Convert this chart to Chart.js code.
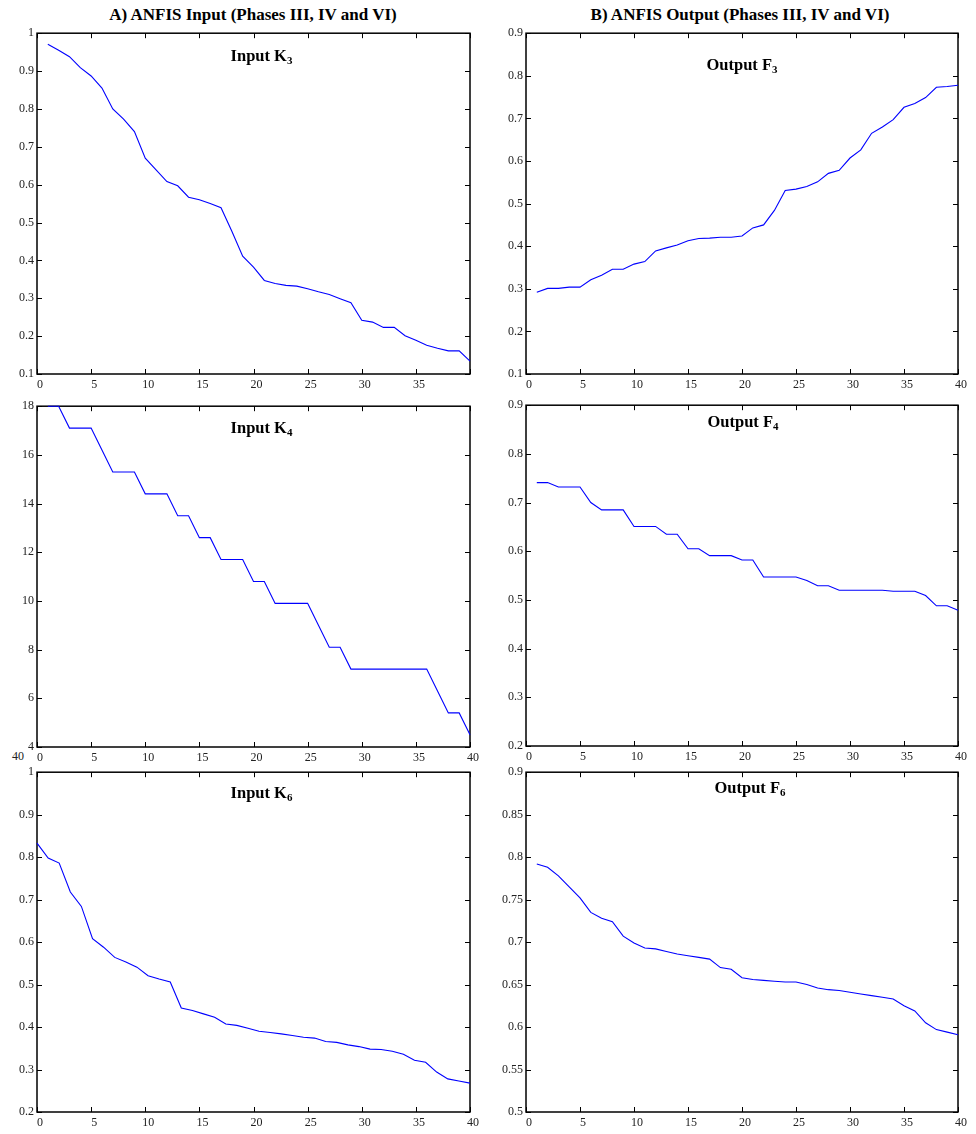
<!DOCTYPE html>
<html><head><meta charset="utf-8">
<script src="https://cdn.jsdelivr.net/npm/chart.js@4.4.1/dist/chart.umd.min.js"></script>
<style>
body{margin:0;background:#fff;width:976px;height:1134px;position:relative;overflow:hidden;font-family:'Liberation Serif','Times New Roman',serif;}
.ct{position:absolute;font-weight:bold;font-size:17px;line-height:17px;text-align:center;width:440px;color:#000;white-space:nowrap}
canvas{position:absolute}
.stray{position:absolute;font-size:12px;line-height:12px;color:#222}
</style></head><body>
<div class="ct" style="left:33px;top:6px">A) ANFIS Input (Phases III, IV and VI)</div>
<div class="ct" style="left:520px;top:6px">B) ANFIS Output (Phases III, IV and VI)</div>
<div class="stray" style="left:12px;top:750px">40</div>
<canvas id="c1" width="488" height="371" style="left:0px;top:23px"></canvas>
<canvas id="c2" width="488" height="371" style="left:488px;top:23px"></canvas>
<canvas id="c3" width="488" height="371" style="left:0px;top:396px"></canvas>
<canvas id="c4" width="488" height="371" style="left:488px;top:395px"></canvas>
<canvas id="c5" width="488" height="370" style="left:0px;top:762px"></canvas>
<canvas id="c6" width="488" height="370" style="left:488px;top:762px"></canvas>
<script>
// ---- data ----
const sampleNo = [1,2,3,4,5,6,7,8,9,10,11,12,13,14,15,16,17,18,19,20,21,22,23,24,25,26,27,28,29,30,31,32,33,34,35,36,37,38,39,40];
const k6Pos = [0,1.03,2.05,3.08,4.10,5.13,6.15,7.18,8.21,9.23,10.26,11.28,12.31,13.33,14.36,15.38,16.41,17.44,18.46,19.49,20.51,21.54,22.56,23.59,24.62,25.64,26.67,27.69,28.72,29.74,30.77,31.79,32.82,33.85,34.87,35.90,36.92,37.95,38.97,40];
const xTicks = [0,5,10,15,20,25,30,35,40];

const inputK3 = [0.971,0.955,0.938,0.909,0.887,0.855,0.800,0.773,0.740,0.670,
  0.639,0.608,0.597,0.567,0.560,0.550,0.539,0.477,0.411,0.382,
  0.347,0.339,0.334,0.332,0.325,0.317,0.310,0.299,0.288,0.242,
  0.237,0.223,0.223,0.201,0.189,0.176,0.168,0.161,0.161,0.134];
const outputF3 = [0.292,0.301,0.301,0.304,0.304,0.321,0.332,0.346,0.346,0.358,
  0.364,0.389,0.396,0.403,0.413,0.418,0.419,0.421,0.421,0.424,
  0.443,0.450,0.484,0.531,0.534,0.540,0.551,0.571,0.578,0.607,
  0.626,0.665,0.680,0.697,0.726,0.735,0.749,0.773,0.775,0.778];
const inputK4 = [18,18,17.1,17.1,17.1,16.2,15.3,15.3,15.3,14.4,
  14.4,14.4,13.5,13.5,12.6,12.6,11.7,11.7,11.7,10.8,
  10.8,9.9,9.9,9.9,9.9,9.0,8.1,8.1,7.2,7.2,
  7.2,7.2,7.2,7.2,7.2,7.2,6.3,5.4,5.4,4.5];
const outputF4 = [0.741,0.741,0.732,0.732,0.732,0.700,0.685,0.685,0.685,0.651,
  0.651,0.651,0.635,0.635,0.605,0.605,0.591,0.591,0.591,0.582,
  0.582,0.547,0.547,0.547,0.547,0.540,0.529,0.529,0.520,0.520,
  0.520,0.520,0.520,0.518,0.518,0.518,0.509,0.488,0.488,0.479];
const inputK6 = [0.833,0.798,0.786,0.718,0.684,0.608,0.588,0.564,0.553,0.541,
  0.521,0.513,0.506,0.445,0.439,0.431,0.423,0.407,0.404,0.397,
  0.390,0.387,0.384,0.380,0.376,0.374,0.366,0.364,0.358,0.354,
  0.348,0.347,0.343,0.336,0.322,0.317,0.294,0.278,0.273,0.268];
const outputF6 = [0.792,0.788,0.778,0.765,0.752,0.735,0.728,0.724,0.707,0.699,
  0.693,0.692,0.689,0.686,0.684,0.682,0.680,0.670,0.668,0.658,
  0.656,0.655,0.654,0.653,0.653,0.650,0.646,0.644,0.643,0.641,
  0.639,0.637,0.635,0.633,0.625,0.619,0.605,0.597,0.594,0.591];

const yTicksK3 = [0.1,0.2,0.3,0.4,0.5,0.6,0.7,0.8,0.9,1];
const yTicksF3 = [0.1,0.2,0.3,0.4,0.5,0.6,0.7,0.8,0.9];
const yTicksK4 = [4,6,8,10,12,14,16,18];
const yTicksF4 = [0.2,0.3,0.4,0.5,0.6,0.7,0.8,0.9];
const yTicksK6 = [0.2,0.3,0.4,0.5,0.6,0.7,0.8,0.9,1];
const yTicksF6 = [0.5,0.55,0.6,0.65,0.7,0.75,0.8,0.85,0.9];

// ---- chart setup ----
Chart.defaults.font.family = "'Liberation Serif','Times New Roman',serif";
Chart.defaults.font.size = 12;
Chart.defaults.color = '#222';

const boxPlugin = {
  id: 'mbox',
  beforeDatasetsDraw(chart, args, opts) {
    const {ctx, chartArea: a, scales: {x, y}} = chart;
    ctx.save();
    ctx.strokeStyle = '#000';
    ctx.lineWidth = 1.5;
    ctx.strokeRect(a.left, a.top, a.right - a.left, a.bottom - a.top);
    ctx.lineWidth = 1;
    ctx.beginPath();
    const L = 5;
    x.ticks.forEach(t => {
      const px = Math.round(x.getPixelForValue(t.value)) + 0.5;
      ctx.moveTo(px, a.bottom); ctx.lineTo(px, a.bottom - L);
      ctx.moveTo(px, a.top); ctx.lineTo(px, a.top + L);
    });
    y.ticks.forEach(t => {
      const py = Math.round(y.getPixelForValue(t.value)) + 0.5;
      ctx.moveTo(a.left, py); ctx.lineTo(a.left + L, py);
      ctx.moveTo(a.right, py); ctx.lineTo(a.right - L, py);
    });
    ctx.stroke();
    // inner subtitle with subscript
    ctx.fillStyle = '#000';
    ctx.textBaseline = 'alphabetic';
    ctx.font = "bold 16.5px 'Liberation Serif','Times New Roman',serif";
    const w1 = ctx.measureText(opts.label).width;
    ctx.font = "bold 11px 'Liberation Serif','Times New Roman',serif";
    const w2 = ctx.measureText(opts.sub).width;
    const cx = (a.left + a.right) / 2 + opts.dx;
    const x0 = cx - (w1 + w2) / 2;
    const by = a.top + opts.dy;
    ctx.font = "bold 16.5px 'Liberation Serif','Times New Roman',serif";
    ctx.textAlign = 'left';
    ctx.fillText(opts.label, x0, by);
    ctx.font = "bold 11px 'Liberation Serif','Times New Roman',serif";
    ctx.fillText(opts.sub, x0 + w1, by + 3);
    ctx.restore();
  }
};

const fmt = v => String(+(+v).toFixed(2));

function makeChart(p) {
  const pts = p.xs.map((xv, i) => ({x: xv, y: p.ys[i]}));
  new Chart(document.getElementById(p.id), {
    type: 'line',
    data: { datasets: [{ data: pts, borderColor: '#0000ff', borderWidth: 1.1, pointRadius: 0, tension: 0, fill: false, clip: false }] },
    options: {
      responsive: false, animation: false, devicePixelRatio: 1,
      layout: { padding: { top: 10, right: 18, left: 0, bottom: 0 } },
      plugins: { legend: { display: false }, tooltip: { enabled: false },
        mbox: { label: p.label, sub: p.sub, dx: p.dx, dy: p.dy } },
      scales: {
        x: {
          type: 'linear', min: 0, max: 40,
          afterBuildTicks: s => { s.ticks = xTicks.map(v => ({value: v})); },
          ticks: { padding: 4, labelOffset: 3, autoSkip: false, maxRotation: 0,
            callback: v => (p.hide40 && v === 40) ? '' : fmt(v) },
          grid: { display: false, drawTicks: false }, border: { display: false },
          afterFit: s => { s.height = 20; }
        },
        y: {
          type: 'linear', min: p.yTicks[0], max: p.yTicks[p.yTicks.length - 1],
          afterBuildTicks: s => { s.ticks = p.yTicks.map(v => ({value: v})); },
          ticks: { padding: 3, autoSkip: false, callback: v => fmt(v) },
          grid: { display: false, drawTicks: false }, border: { display: false },
          afterFit: s => { s.width = p.yW; }
        }
      }
    },
    plugins: [boxPlugin]
  });
}

[
  {id:'c1', xs: sampleNo, ys: inputK3,  yTicks: yTicksK3, yW:37, hide40:true, label:'Input K',  sub:'3', dx:8, dy:28},
  {id:'c2', xs: sampleNo, ys: outputF3, yTicks: yTicksF3, yW:38, label:'Output F', sub:'3', dx:0, dy:37},
  {id:'c3', xs: sampleNo, ys: inputK4,  yTicks: yTicksK4, yW:37, label:'Input K',  sub:'4', dx:8, dy:27},
  {id:'c4', xs: sampleNo, ys: outputF4, yTicks: yTicksF4, yW:38, label:'Output F', sub:'4', dx:1, dy:22},
  {id:'c5', xs: k6Pos,    ys: inputK6,  yTicks: yTicksK6, yW:37, label:'Input K',  sub:'6', dx:8, dy:26},
  {id:'c6', xs: sampleNo, ys: outputF6, yTicks: yTicksF6, yW:38, label:'Output F', sub:'6', dx:8, dy:21}
].forEach(makeChart);
</script>
</body></html>
